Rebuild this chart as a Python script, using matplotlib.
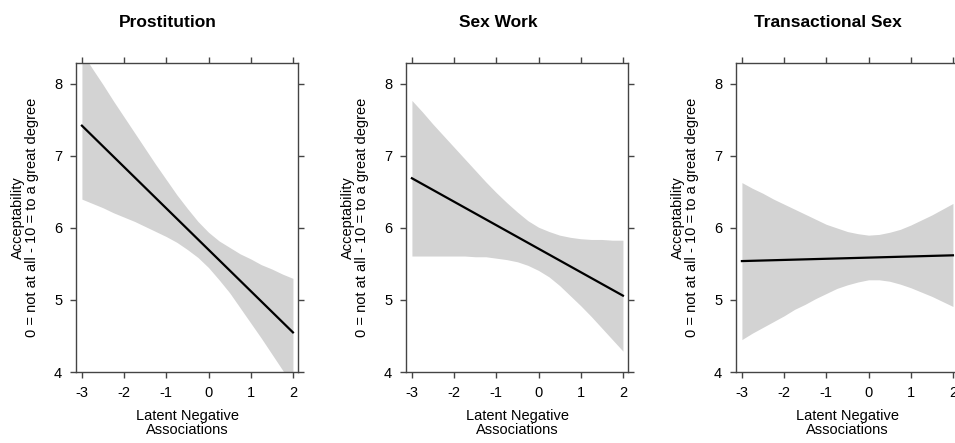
# effects_plots.py
# Three effect plots: acceptability vs latent negative associations,
# fitted line with confidence band, one panel per term
import matplotlib.pyplot as plt

plt.rcParams['font.family'] = ['Liberation Sans', 'DejaVu Sans']

titles = ["Prostitution", "Sex Work", "Transactional Sex"]

# fitted lines are straight, so only the two ends are needed
fit_x = [-3, 2]
prost_fit = [7.42, 4.55]
sw_fit = [6.69, 5.06]
ts_fit = [5.54, 5.62]

band_x = [-3, -2.75, -2.5, -2.25, -2, -1.75, -1.5, -1.25, -1, -0.75, -0.5,
          -0.25, 0, 0.25, 0.5, 0.75, 1, 1.25, 1.5, 1.75, 2]

prost_upper = [8.44, 8.21, 7.99, 7.76, 7.54, 7.32, 7.10, 6.88, 6.67, 6.46, 6.27,
               6.09, 5.94, 5.82, 5.73, 5.64, 5.57, 5.49, 5.43, 5.36, 5.30]
prost_lower = [6.40, 6.34, 6.28, 6.21, 6.15, 6.09, 6.02, 5.95, 5.88, 5.80, 5.70,
               5.59, 5.45, 5.28, 5.10, 4.89, 4.68, 4.47, 4.25, 4.03, 3.80]

sw_upper = [7.77, 7.61, 7.44, 7.28, 7.12, 6.96, 6.80, 6.64, 6.49, 6.35, 6.22,
            6.10, 6.01, 5.95, 5.90, 5.87, 5.85, 5.84, 5.84, 5.83, 5.83]
sw_lower = [5.61, 5.61, 5.61, 5.61, 5.61, 5.61, 5.60, 5.60, 5.58, 5.56, 5.53,
            5.48, 5.41, 5.32, 5.20, 5.06, 4.92, 4.77, 4.61, 4.45, 4.29]

ts_upper = [6.63, 6.55, 6.48, 6.40, 6.33, 6.26, 6.19, 6.12, 6.05, 6.00, 5.95,
            5.92, 5.90, 5.91, 5.94, 5.98, 6.04, 6.11, 6.18, 6.26, 6.34]
ts_lower = [4.45, 4.54, 4.62, 4.70, 4.78, 4.87, 4.94, 5.02, 5.09, 5.16, 5.21,
            5.25, 5.28, 5.28, 5.26, 5.22, 5.17, 5.11, 5.05, 4.98, 4.91]

fits = [prost_fit, sw_fit, ts_fit]
uppers = [prost_upper, sw_upper, ts_upper]
lowers = [prost_lower, sw_lower, ts_lower]

x_ticks = [-3, -2, -1, 0, 1, 2]
y_ticks = [4, 5, 6, 7, 8]

fig = plt.figure(figsize=(9.55, 4.43), dpi=100)

# panel left edges in pixels (the last one runs off the right side)
lefts = [76, 406, 736]

for i in range(3):
    ax = fig.add_axes([lefts[i] / 955, 1 - 372 / 443, 222 / 955, 309 / 443])
    ax.fill_between(band_x, lowers[i], uppers[i], color='#d3d3d3', lw=0)
    ax.plot(fit_x, fits[i], color='black', lw=1.6)

    ax.set_xlim(-3.14, 2.12)
    ax.set_ylim(4, 8.29)
    ax.set_xticks(x_ticks)
    ax.set_xticklabels([str(t) for t in x_ticks])
    ax.set_yticks(y_ticks)

    for s in ax.spines.values():
        s.set_color('#444444')
        s.set_linewidth(1.0)
    ax.tick_params(direction='out', length=4.5, width=1.0, color='#444444',
                   pad=5.5, labelsize=10.5, top=True, right=True)

    ax.set_xlabel("Latent Negative\nAssociations", fontsize=10.5, linespacing=1.0)
    ax.xaxis.set_label_coords(0.5, -0.12)
    ax.set_ylabel("Acceptability\n0 = not at all - 10 = to a great degree",
                  fontsize=10.5, linespacing=1.0, va='center')
    ax.yaxis.set_label_coords(-0.231, 0.5)

    ax.text(0.414, 1.13, titles[i], transform=ax.transAxes, ha='center',
            va='center', fontsize=12.5, fontweight='bold')

plt.savefig("out.png", dpi=100)
